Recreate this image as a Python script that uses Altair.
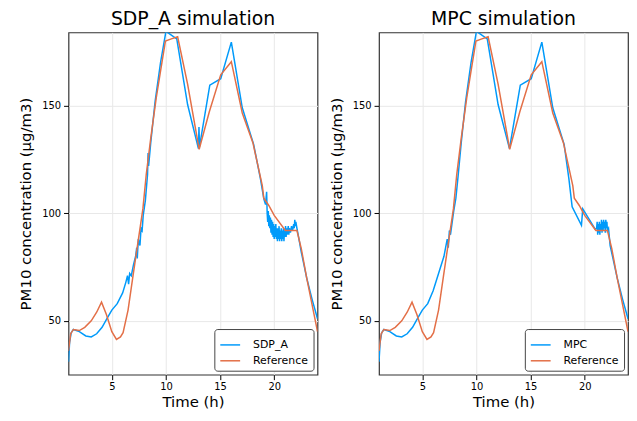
import altair as alt
import pandas as pd

# ---------------- data ----------------
time_ref = [1.0, 1.2, 1.45, 2.0, 2.5, 3.1, 3.6, 4.05, 4.5, 5.0, 5.43, 5.8, 6.04,
            6.5, 6.96, 7.4, 7.87, 8.18, 8.6, 9.1, 9.5, 9.95, 10.5, 11.08, 12.0,
            13.07, 14.0, 15.06, 16.04, 17.05, 18.03, 18.9, 19.04, 19.5, 20.0,
            21.03, 22.1, 22.5, 23.0, 24.0]
pm_ref = [36, 44, 46, 45.5, 47, 50, 54, 58.7, 53, 45, 41.4, 42.5, 44.5,
          55, 71, 86, 102, 118, 135, 153.5, 166, 180, 181, 182, 160,
          129.7, 147, 164.3, 170.4, 146.6, 132.8, 112.8, 107, 103.6, 99,
          92, 92, 83.6, 70, 45]

time_sdp = [1.0, 1.1, 1.25, 1.45, 2.0, 2.6, 3.1, 3.6, 4.1, 4.6, 5.0, 5.5, 6.0,
            6.3, 6.45, 6.55, 6.65, 6.8, 7.0, 7.2, 7.3, 7.35, 7.45, 7.6, 7.7,
            7.8, 7.9, 8.1, 8.3, 8.35, 8.4, 8.6, 9.0, 9.5, 10.0, 11.0, 12.0,
            13.0, 13.05, 13.1, 14.05, 15.06, 16.04, 17.05, 18.1, 18.73, 19.04,
            19.2, 19.3, 19.35, 19.4, 19.45, 19.5, 19.55, 19.6, 19.65, 19.7,
            19.75, 19.8, 19.85, 19.9, 19.95, 20.0, 20.05, 20.1, 20.15, 20.2,
            20.25, 20.3, 20.35, 20.4, 20.45, 20.5, 20.55, 20.6, 20.65, 20.7,
            20.75, 20.8, 20.85, 20.9, 20.95, 21.0, 21.05, 21.1, 21.15, 21.2,
            21.3, 21.35, 21.4, 21.5, 21.6, 21.7, 21.8, 21.85, 21.9, 21.95,
            22.0, 22.1, 22.25, 22.5, 23.0, 23.5, 24.0]
pm_sdp = [31, 40, 44.5, 46, 45, 43, 42.5, 44, 47, 51.5, 55, 58, 63,
          68, 71, 67, 72, 71, 76, 80, 84, 79, 88, 85, 93,
          92, 99, 106, 118, 128, 122, 133, 152, 170, 184.5, 181, 150.5,
          130, 140, 131, 159.5, 162.5, 179.5, 149, 132, 116, 106.7,
          104, 110, 100, 96, 101, 94, 99, 93, 98, 91,
          97, 90, 96, 89, 95, 88, 94, 89, 95, 88,
          93, 87, 93, 88, 94, 87, 92, 88, 93, 87,
          92, 88, 93, 87, 92, 89, 94, 89, 93, 90,
          94, 90, 93, 91, 94, 92, 95, 93, 97, 94,
          96, 93, 89, 82, 70, 60, 51]

time_mpc = [1.0, 1.1, 1.25, 1.45, 2.0, 2.6, 3.1, 3.6, 4.1, 4.6, 5.0, 5.5, 6.0,
            6.5, 7.0, 7.3, 7.4, 7.5, 7.6, 7.9, 8.1, 8.3, 8.6, 9.0, 9.5, 10.0,
            11.0, 12.0, 13.05, 14.05, 15.06, 16.04, 17.05, 18.1, 18.54, 18.84,
            19.7, 19.82, 20.98, 21.1, 21.15, 21.2, 21.25, 21.3, 21.35, 21.4,
            21.45, 21.5, 21.55, 21.6, 21.65, 21.7, 21.75, 21.8, 21.85, 21.9,
            21.95, 22.0, 22.05, 22.1, 22.2, 22.35, 23.0, 23.5, 24.0]
pm_mpc = [31, 40, 44.5, 46, 45, 43, 42.5, 44, 47, 51.5, 55, 58, 64,
          72, 80, 88, 84, 92, 90, 101, 107, 117, 133, 152, 170, 184.5,
          181, 150.5, 130, 159.5, 162.5, 179.5, 149, 132, 116, 103,
          94.4, 102, 92.5, 93, 96, 90, 95, 91, 96, 90,
          95, 92, 97, 91, 96, 92, 97, 93, 96, 91,
          97, 93, 96, 92, 93, 85, 70, 60, 51]

BLUE = "#009AFA"
ORANGE = "#E36F47"
FONT = "DejaVu Sans"


def panel(name, t, v, title):
    df = pd.concat([
        pd.DataFrame({"t": t, "v": v, "s": name}),
        pd.DataFrame({"t": time_ref, "v": pm_ref, "s": "Reference"}),
    ])
    return alt.Chart(
        df,
        title=alt.Title(title, fontSize=19, font=FONT, fontWeight="normal",
                        color="black", offset=3),
    ).mark_line(clip=True, strokeWidth=1.5).encode(
        x=alt.X("t:Q",
                scale=alt.Scale(domain=[1, 24], nice=False, zero=False),
                axis=alt.Axis(values=[5, 10, 15, 20], title="Time (h)",
                              labelPadding=2, titlePadding=3)),
        y=alt.Y("v:Q",
                scale=alt.Scale(domain=[25, 184], nice=False, zero=False),
                axis=alt.Axis(values=[50, 100, 150],
                              title="PM10 concentration (μg/m3)",
                              titlePadding=8)),
        color=alt.Color(
            "s:N",
            scale=alt.Scale(domain=[name, "Reference"], range=[BLUE, ORANGE]),
            sort=[name, "Reference"],
            legend=alt.Legend(title=None, orient="bottom-right", offset=4,
                              strokeColor="#444444", fillColor="white",
                              cornerRadius=3, padding=5, symbolType="stroke",
                              symbolSize=400, symbolStrokeWidth=1.5,
                              labelFontSize=11, labelFont=FONT,
                              labelColor="black", rowPadding=-6,
                              labelOffset=12),
        ),
    ).properties(width=251, height=345)


left = panel("SDP_A", time_sdp, pm_sdp, "SDP_A simulation")
right = panel("MPC", time_mpc, pm_mpc, "MPC simulation")

chart = alt.hconcat(left, right, spacing=10).resolve_scale(
    color="independent"
).resolve_legend(color="independent").properties(
    padding={"left": 10, "top": 0, "right": 0, "bottom": 0}
).configure_view(
    stroke="#333333", strokeWidth=1.2
).configure_axis(
    domain=False, tickColor="black", tickSize=5, tickWidth=1,
    grid=True, gridColor="#e8e8e8", gridWidth=1,
    labelFont=FONT, labelFontSize=10, labelColor="black", labelPadding=3,
    titleFont=FONT, titleFontSize=15, titleFontWeight="normal",
    titleColor="black",
)

chart.save("out.html", embed_options={"renderer": "svg", "actions": False})
